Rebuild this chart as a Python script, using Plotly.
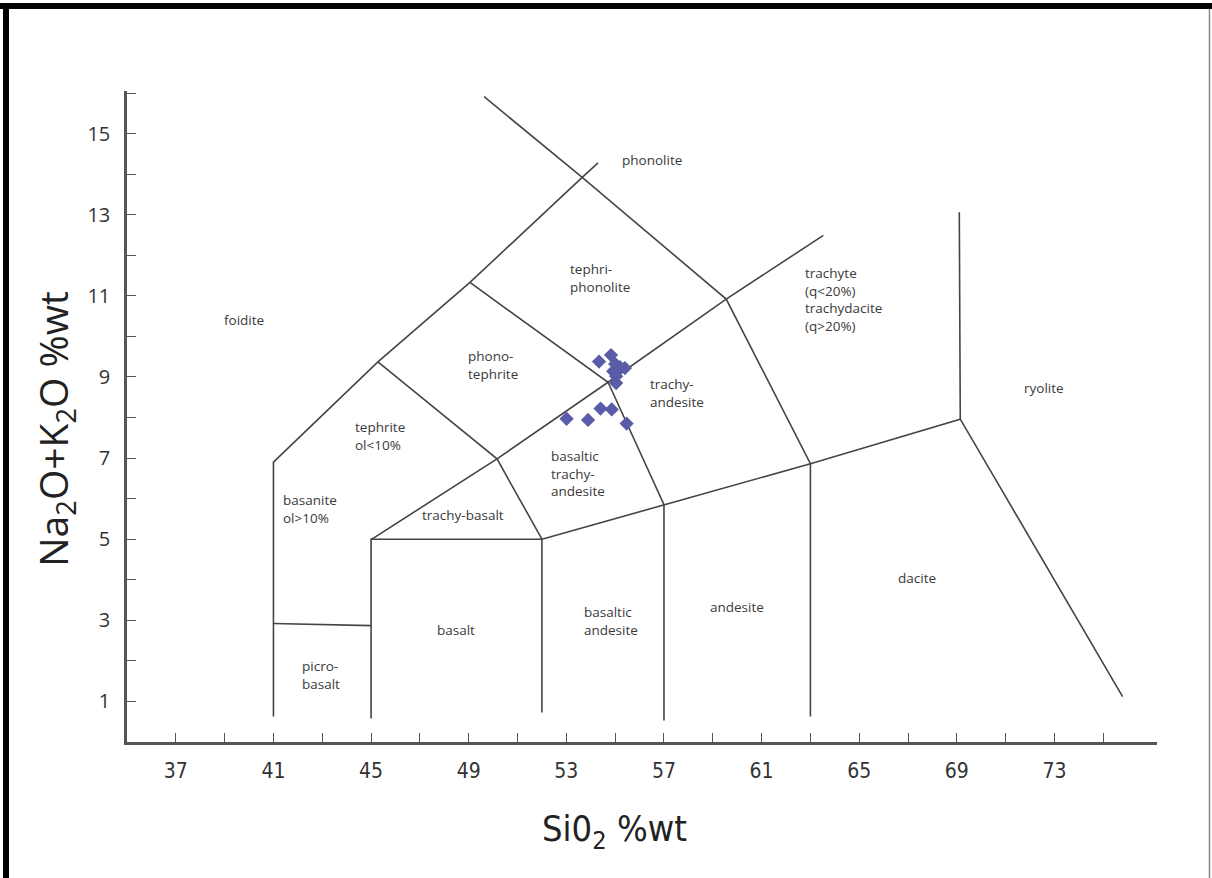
import plotly.graph_objects as go

# Total alkali vs. silica classification fields (wt %), drawn as polylines
boundaries = [
    [(41.0, 0.63), (41.0, 6.90), (45.28, 9.37), (49.05, 11.33), (53.65, 13.92), (54.30, 14.28)],
    [(49.63, 15.91), (53.65, 13.92), (59.55, 10.92), (63.0, 6.86), (63.0, 0.63)],
    [(45.0, 4.99), (50.16, 6.98), (54.71, 8.87), (59.55, 10.92), (63.53, 12.49)],
    [(45.28, 9.37), (50.16, 6.98), (52.0, 5.0)],
    [(49.05, 11.33), (54.71, 8.87), (57.0, 5.85), (57.0, 0.53)],
    [(45.0, 0.58), (45.0, 5.0), (52.0, 5.0), (52.0, 0.73)],
    [(52.0, 5.0), (57.0, 5.85), (63.0, 6.86), (69.14, 7.96), (75.79, 1.12)],
    [(69.10, 13.06), (69.14, 7.96)],
    [(41.0, 2.92), (45.0, 2.87)],
]

# Field names and where they sit (SiO2, Na2O+K2O)
field_names = [
    "phonolite", "tephri-<br>phonolite", "foidite",
    "trachyte<br>(q<20%)<br>trachydacite<br>(q>20%)",
    "phono-<br>tephrite", "trachy-<br>andesite", "ryolite",
    "tephrite<br>ol<10%", "basaltic<br>trachy-<br>andesite",
    "basanite<br>ol>10%", "trachy-basalt", "dacite", "andesite",
    "basaltic<br>andesite", "basalt", "picro-<br>basalt",
]
field_x = [56.52, 53.07, 39.79, 62.71, 48.89, 56.35, 72.55, 44.26, 52.29,
           41.30, 48.77, 67.38, 60.00, 53.65, 48.48, 42.08]
field_y = [14.36, 11.43, 10.40, 10.92, 9.29, 8.60, 8.73, 7.54, 6.61,
           5.75, 5.60, 4.05, 3.34, 2.99, 2.75, 1.66]
field_anchor = ["center", "left", "center", "left", "left", "left", "center",
                "left", "left", "left", "center", "center", "center", "left",
                "center", "left"]

# Sample analyses
sio2 = [54.34, 54.83, 55.00, 55.20, 55.40, 54.92, 55.04, 55.04,
        54.40, 54.86, 53.01, 53.89, 55.47]
alkali = [9.38, 9.54, 9.32, 9.24, 9.22, 9.14, 9.02, 8.85,
          8.22, 8.20, 7.97, 7.94, 7.85]

# Axis scales and ticks
x_range = [35.0, 77.2]
y_range = [0.0, 16.05]
x_labels = [37, 41, 45, 49, 53, 57, 61, 65, 69, 73]
x_minor = [39, 43, 47, 51, 55, 59, 63, 67, 71, 75]
y_labels = [1, 3, 5, 7, 9, 11, 13, 15]
y_minor = [2, 4, 6, 8, 10, 12, 14, 16]

fig = go.Figure()

bx, by = [], []
for line in boundaries:
    for px, py in line:
        bx.append(px)
        by.append(py)
    bx.append(None)
    by.append(None)

fig.add_trace(go.Scatter(
    x=bx, y=by, mode="lines",
    line=dict(color="#454545", width=1.6),
    hoverinfo="skip", showlegend=False,
))

fig.add_trace(go.Scatter(
    x=sio2, y=alkali, mode="markers",
    marker=dict(symbol="diamond", size=11, color="#5b5ca8",
                line=dict(width=0)),
    showlegend=False,
))

label_font = dict(family="Open Sans, Noto Sans, sans-serif", size=13.5, color="#3a3a3a")
for name, fx, fy, anc in zip(field_names, field_x, field_y, field_anchor):
    fig.add_annotation(
        x=fx, y=fy, xref="x", yref="y", text=name, showarrow=False,
        xanchor=anc, yanchor="middle", align=anc,
        font=label_font,
    )

condensed = "DejaVu Sans Condensed, Open Sans, sans-serif"

# Axis titles
fig.add_annotation(
    x=-0.070, y=0.481, xref="paper", yref="paper",
    xanchor="center", yanchor="middle",
    text="Na<sub>2</sub>O+K<sub>2</sub>O %wt", textangle=-90, showarrow=False,
    font=dict(family="Open Sans, sans-serif", size=39, color="#222222"),
)
fig.add_annotation(
    x=0.473, y=-0.138, xref="paper", yref="paper",
    xanchor="center", yanchor="middle",
    text="Si0<sub>2</sub> %wt", showarrow=False,
    font=dict(family=condensed, size=36, color="#222222"),
)

axis_common = dict(
    showgrid=False, zeroline=False, showline=True,
    linecolor="#555555", linewidth=2.5,
    ticks="inside", ticklen=9, tickwidth=1, tickcolor="#555555",
)

fig.update_xaxes(
    range=x_range, tickmode="array", tickvals=x_labels,
    ticktext=[str(v) for v in x_labels],
    tickfont=dict(family=condensed, size=21, color="#333333"),
    minor=dict(tickmode="array", tickvals=x_minor, ticks="inside", ticklen=9,
               tickcolor="#555555", tickwidth=1),
    ticklabelstandoff=8,
    **axis_common,
)
fig.update_yaxes(
    range=y_range, tickmode="array", tickvals=y_labels,
    ticktext=[str(v) for v in y_labels],
    tickfont=dict(family="Open Sans, sans-serif", size=20, color="#333333"),
    minor=dict(tickmode="array", tickvals=y_minor, ticks="inside", ticklen=9,
               tickcolor="#555555", tickwidth=1),
    ticklabelstandoff=10,
    **axis_common,
)

# Page frame: heavy black rule on top and left, thin grey rule on the right
plot_l, plot_r, plot_t, plot_b = 127, 1157, 91, 742
pw, ph = plot_r - plot_l, plot_b - plot_t


def px_x(v):
    return (v - plot_l) / pw


def px_y(v):
    return (plot_b - v) / ph


fig.add_shape(type="rect", xref="paper", yref="paper",
              x0=px_x(0), x1=px_x(1212), y0=px_y(9), y1=px_y(3),
              fillcolor="black", line=dict(width=0), layer="above")
fig.add_shape(type="rect", xref="paper", yref="paper",
              x0=px_x(3), x1=px_x(9), y0=px_y(878), y1=px_y(3),
              fillcolor="black", line=dict(width=0), layer="above")
fig.add_shape(type="line", xref="paper", yref="paper",
              x0=px_x(1209.5), x1=px_x(1209.5), y0=px_y(878), y1=px_y(9),
              line=dict(color="#888888", width=1.5), layer="above")

fig.update_layout(
    width=1212, height=878,
    margin=dict(l=plot_l, r=1212 - plot_r, t=plot_t, b=878 - plot_b),
    paper_bgcolor="white", plot_bgcolor="white",
    showlegend=False,
)

fig.write_html("out.html")
